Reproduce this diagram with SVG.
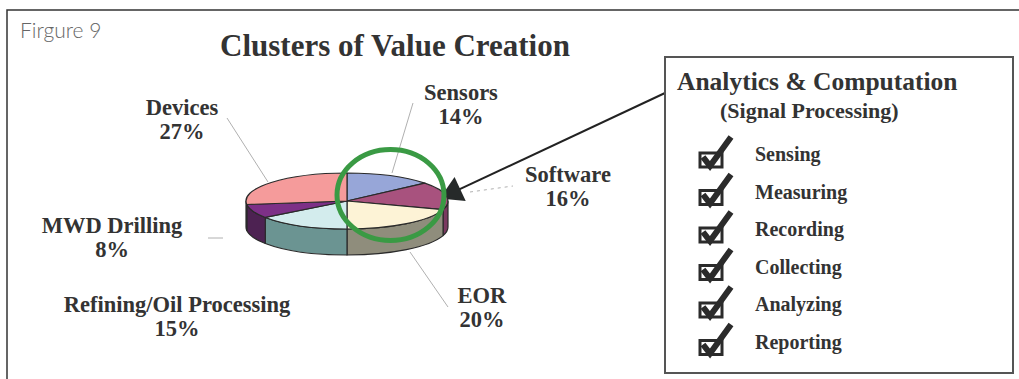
<svg xmlns="http://www.w3.org/2000/svg" width="1019" height="379" viewBox="0 0 1019 379">
<style>
.lbl{font-family:"Liberation Serif","Times New Roman",serif;font-weight:bold;font-size:22.5px;fill:#333;text-anchor:middle}
.item{font-family:"Liberation Serif","Times New Roman",serif;font-weight:bold;font-size:20px;fill:#333}
.ttl{font-family:"Liberation Serif","Times New Roman",serif;font-weight:bold;fill:#333}
.slice{stroke:#2a2a2a;stroke-width:1.2;stroke-linejoin:round}
.lead{stroke:#b0b0b0;stroke-width:1;fill:none}
.chk{fill:none;stroke:#2b2b2b;stroke-width:3}
.tick{fill:none;stroke:#2b2b2b;stroke-width:6;stroke-linecap:butt;stroke-linejoin:miter}
</style>
<defs>
<marker id="ah" markerUnits="userSpaceOnUse" markerWidth="30" markerHeight="30" viewBox="-3 -14 26 28" refX="0" refY="0" orient="auto">
<path d="M-2,-12.3 L19,0 L-2,12.3 Z" fill="#262a2a"/>
</marker>
<g id="cb">
<rect class="chk" x="0" y="0" width="22" height="14"/>
<path class="tick" d="M3,4 L10,13 L31,-16"/>
</g>
</defs>
<rect width="1019" height="379" fill="#fff"/>
<g id="frame">
<path d="M7,379 L7,10 L1019,10" fill="none" stroke="#333" stroke-width="1.5"/>
<text x="20" y="38" font-family="Lato, 'Liberation Sans', sans-serif" font-weight="300" font-size="21" fill="#666">Firgure 9</text>
<text class="ttl" x="395" y="56" font-size="31" text-anchor="middle">Clusters of Value Creation</text>
</g>
<g id="connectors">
<line class="lead" x1="227" y1="118" x2="268" y2="182"/>
<line class="lead" x1="413" y1="103" x2="392" y2="173"/>
<line class="lead" x1="470" y1="192" x2="513" y2="186" stroke-dasharray="3,4"/>
<line class="lead" x1="208" y1="238" x2="223" y2="238"/>
<line class="lead" x1="410" y1="252" x2="448" y2="307"/>
<line x1="665" y1="93" x2="458.2" y2="189.9" stroke="#222" stroke-width="2" marker-end="url(#ah)"/>
</g>
<g id="pie">
<path class="slice" fill="#7a3960" d="M448,201 A101,28 0 0 1 443.06,209.65 L443.06,235.65 A101,28 0 0 0 448,227 Z"/>
<path class="slice" fill="#8f8d7c" d="M443.06,209.65 A101,28 0 0 1 347,229 L347,255 A101,28 0 0 0 443.06,235.65 Z"/>
<path class="slice" fill="#6b9492" d="M347,229 A101,28 0 0 1 265.29,217.46 L265.29,243.46 A101,28 0 0 0 347,255 Z"/>
<path class="slice" fill="#4d2252" d="M265.29,217.46 A101,28 0 0 1 246.8,204.51 L246.8,230.51 A101,28 0 0 0 265.29,243.46 Z"/>
<path class="slice" fill="#b06a6a" d="M246.8,204.51 A101,28 0 0 1 246,201 L246,227 A101,28 0 0 0 246.8,230.51 Z"/>
<path class="slice" fill="#97a6d8" d="M347,201 L347,173 A101,28 0 0 1 424.82,183.15 Z"/>
<path class="slice" fill="#a8527e" d="M347,201 L424.82,183.15 A101,28 0 0 1 443.06,209.65 Z"/>
<path class="slice" fill="#fdf3d6" d="M347,201 L443.06,209.65 A101,28 0 0 1 347,229 Z"/>
<path class="slice" fill="#d3eced" d="M347,201 L347,229 A101,28 0 0 1 265.29,217.46 Z"/>
<path class="slice" fill="#7d3087" d="M347,201 L265.29,217.46 A101,28 0 0 1 246.8,204.51 Z"/>
<path class="slice" fill="#f59b9b" d="M347,201 L246.8,204.51 A101,28 0 0 1 347,173 Z"/>
<ellipse cx="390.5" cy="195" rx="53.5" ry="45.5" fill="none" stroke="#3a9a44" stroke-width="5"/>
</g>
<g id="lbl-devices"><text class="lbl" x="182" y="115">Devices</text><text class="lbl" x="182" y="139">27%</text></g>
<g id="lbl-sensors"><text class="lbl" x="461" y="100">Sensors</text><text class="lbl" x="461" y="124">14%</text></g>
<g id="lbl-software"><text class="lbl" x="568" y="182">Software</text><text class="lbl" x="568" y="206">16%</text></g>
<g id="lbl-eor"><text class="lbl" x="482" y="303">EOR</text><text class="lbl" x="482" y="327">20%</text></g>
<g id="lbl-mwd"><text class="lbl" x="112" y="233">MWD Drilling</text><text class="lbl" x="112" y="257">8%</text></g>
<g id="lbl-refining"><text class="lbl" x="177" y="312">Refining/Oil Processing</text><text class="lbl" x="177" y="336">15%</text></g>
<g id="analytics-box">
<rect x="665" y="57" width="348" height="316" fill="#fff" stroke="#555" stroke-width="2"/>
<text class="ttl" x="677" y="90" font-size="25.5">Analytics &amp; Computation</text>
<text class="ttl" x="720" y="118" font-size="22">(Signal Processing)</text>
<use href="#cb" x="700" y="153"/><text class="item" x="755" y="161">Sensing</text>
<use href="#cb" x="700" y="190.5"/><text class="item" x="755" y="198.5">Measuring</text>
<use href="#cb" x="700" y="228"/><text class="item" x="755" y="236">Recording</text>
<use href="#cb" x="700" y="265.5"/><text class="item" x="755" y="273.5">Collecting</text>
<use href="#cb" x="700" y="303"/><text class="item" x="755" y="311">Analyzing</text>
<use href="#cb" x="700" y="340.5"/><text class="item" x="755" y="348.5">Reporting</text>
</g>
</svg>
